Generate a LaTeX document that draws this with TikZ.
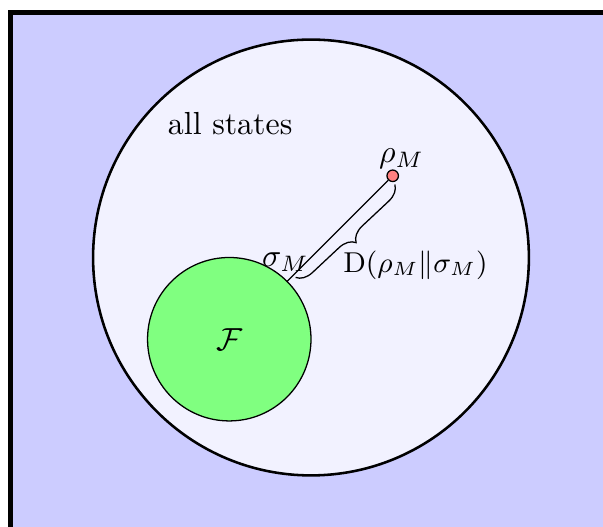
\documentclass[tikz,border=0pt]{standalone}
\usepackage{amsmath}
\usepackage{amssymb}
\usepackage{tikz}
\usetikzlibrary{arrows.meta, decorations.pathreplacing, positioning, calc}

\begin{document}
\begin{tikzpicture}[>=Stealth,
  statedot/.style={circle, draw, fill=red!50, inner sep=0pt, minimum size=3.6pt},
  divbrace/.style={decorate, decoration={brace, mirror, amplitude=5pt, raise=1pt}}]
  \useasboundingbox (-3.425,-2.968) rectangle (3.216,2.836);

  % Frame
  \draw[line width=1.6pt, fill=blue!20] (-3.31,-3.4) rectangle (3.4,2.70);

  % All states and the free set
  \draw[thick, fill=blue!5] (0,0) circle (2.4);
  \node at (-0.89,1.48) (all) {all states};
  \draw[fill=green!50] (-0.9,-0.9) circle (0.9);
  \node at (-0.9,-0.9) (free) {$\mathcal{F}$};

  % Closest free state
  \node[statedot] at (0.9,0.9) (rho) {};
  \node[anchor=south, inner sep=0pt, xshift=2.8pt] at (rho.north) (rholab) {$\rho_M$};
  \coordinate (sigma) at ($(-0.9,-0.9)+(45:0.9)$);
  \node[above, inner sep=3pt, xshift=-0.5pt] at (sigma) (sigmalab) {$\sigma_M$};
  \draw (sigma) -- (rho);

  % Relative entropy brace
  \draw[divbrace] ($(sigma)!0.06!(rho)$) -- (rho.south);
  \node[anchor=north west, inner sep=0pt] at (0.35,0.08) (dist)
    {\small $\mathrm{D}(\rho_M\|\sigma_M)$};
\end{tikzpicture}
\end{document}
